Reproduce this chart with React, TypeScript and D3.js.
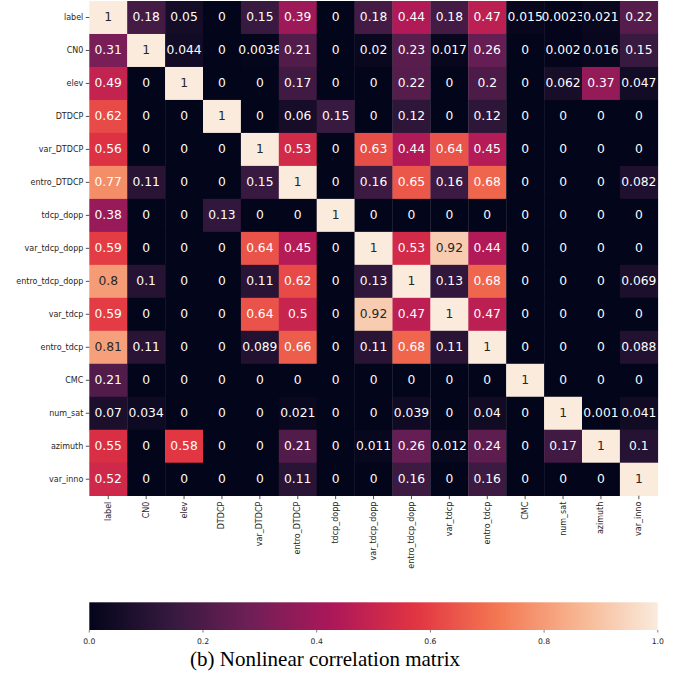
import React from "react";
import * as d3 from "d3";

const features: string[] = [
  "label", "CN0", "elev", "DTDCP", "var_DTDCP", "entro_DTDCP", "tdcp_dopp",
  "var_tdcp_dopp", "entro_tdcp_dopp", "var_tdcp", "entro_tdcp", "CMC",
  "num_sat", "azimuth", "var_inno",
];

const corrValues: number[][] = [
  [1, 0.18, 0.05, 0, 0.15, 0.39, 0, 0.18, 0.44, 0.18, 0.47, 0.015, 0.0023, 0.021, 0.22],
  [0.31, 1, 0.044, 0, 0.0038, 0.21, 0, 0.02, 0.23, 0.017, 0.26, 0, 0.002, 0.016, 0.15],
  [0.49, 0, 1, 0, 0, 0.17, 0, 0, 0.22, 0, 0.2, 0, 0.062, 0.37, 0.047],
  [0.62, 0, 0, 1, 0, 0.06, 0.15, 0, 0.12, 0, 0.12, 0, 0, 0, 0],
  [0.56, 0, 0, 0, 1, 0.53, 0, 0.63, 0.44, 0.64, 0.45, 0, 0, 0, 0],
  [0.77, 0.11, 0, 0, 0.15, 1, 0, 0.16, 0.65, 0.16, 0.68, 0, 0, 0, 0.082],
  [0.38, 0, 0, 0.13, 0, 0, 1, 0, 0, 0, 0, 0, 0, 0, 0],
  [0.59, 0, 0, 0, 0.64, 0.45, 0, 1, 0.53, 0.92, 0.44, 0, 0, 0, 0],
  [0.8, 0.1, 0, 0, 0.11, 0.62, 0, 0.13, 1, 0.13, 0.68, 0, 0, 0, 0.069],
  [0.59, 0, 0, 0, 0.64, 0.5, 0, 0.92, 0.47, 1, 0.47, 0, 0, 0, 0],
  [0.81, 0.11, 0, 0, 0.089, 0.66, 0, 0.11, 0.68, 0.11, 1, 0, 0, 0, 0.088],
  [0.21, 0, 0, 0, 0, 0, 0, 0, 0, 0, 0, 1, 0, 0, 0],
  [0.07, 0.034, 0, 0, 0, 0.021, 0, 0, 0.039, 0, 0.04, 0, 1, 0.001, 0.041],
  [0.55, 0, 0.58, 0, 0, 0.21, 0, 0.011, 0.26, 0.012, 0.24, 0, 0.17, 1, 0.1],
  [0.52, 0, 0, 0, 0, 0.11, 0, 0, 0.16, 0, 0.16, 0, 0, 0, 1],
];

const colorbarTicks: number[] = [0, 0.2, 0.4, 0.6, 0.8, 1.0];
const titleText = "(b) Nonlinear correlation matrix";

// seaborn "rocket" colormap key colours
const rocketStops: string[] = ["#03051a", "#35193e", "#701f57", "#ad1759", "#e13342", "#f37651", "#f6b48f", "#faebdd"];
const rocketPositions: number[] = [0, 1 / 7, 2 / 7, 3 / 7, 4 / 7, 5 / 7, 6 / 7, 1];

function luminance(c: string): number {
  const rgb = d3.rgb(c);
  const f = (v: number) => {
    v /= 255;
    return v <= 0.03928 ? v / 12.92 : Math.pow((v + 0.055) / 1.055, 2.4);
  };
  return 0.2126 * f(rgb.r) + 0.7152 * f(rgb.g) + 0.0722 * f(rgb.b);
}

export default function App() {
  const W = 689;
  const H = 675;
  const left = 89.3;
  const right = 657.8;
  const top = 1;
  const bottom = 495.7;
  const cbTop = 602.3;
  const cbBottom = 630;

  const x = d3.scaleBand<string>().domain(features).range([left, right]);
  const y = d3.scaleBand<string>().domain(features).range([top, bottom]);
  const color = d3
    .scaleLinear<string>()
    .domain(rocketPositions)
    .range(rocketStops)
    .interpolate(d3.interpolateRgb)
    .clamp(true);
  const cb = d3.scaleLinear().domain([0, 1]).range([left, right]);
  const fmt = d3.format(".2~g");
  const gradStops = d3.range(0, 1.0001, 0.02);
  const sans = "DejaVu Sans, sans-serif";
  const tickColor = "#262626";

  return (
    <div style={{ position: "absolute", left: 0, top: 0 }}>
      <svg width={W} height={H} viewBox={`0 0 ${W} ${H}`} style={{ display: "block", background: "#fff" }}>
        <defs>
          <linearGradient id="rocketGrad" x1="0" x2="1" y1="0" y2="0">
            {gradStops.map((t) => (
              <stop key={t} offset={`${t * 100}%`} stopColor={color(t)} />
            ))}
          </linearGradient>
        </defs>

        {/* cells */}
        {corrValues.map((row, i) =>
          row.map((v, j) => {
            const c = color(v);
            const cx = x(features[j])! + x.bandwidth() / 2;
            const cy = y(features[i])! + y.bandwidth() / 2;
            return (
              <g key={`${i}-${j}`}>
                <rect
                  x={x(features[j])!}
                  y={y(features[i])!}
                  width={x.bandwidth() + 0.3}
                  height={y.bandwidth() + 0.3}
                  fill={c}
                />
                <text
                  x={cx}
                  y={cy}
                  textAnchor="middle"
                  dominantBaseline="central"
                  fontFamily={sans}
                  fontSize={12.3}
                  fill={luminance(c) > 0.408 ? "#262626" : "#ffffff"}
                >
                  {fmt(v)}
                </text>
              </g>
            );
          })
        )}

        {/* y axis */}
        {features.map((f) => {
          const cy = y(f)! + y.bandwidth() / 2;
          return (
            <g key={`y-${f}`}>
              <line x1={left - 3.5} x2={left} y1={cy} y2={cy} stroke={tickColor} strokeWidth={0.8} />
              <text
                x={left - 6}
                y={cy}
                textAnchor="end"
                dominantBaseline="central"
                fontFamily={sans}
                fontSize={8}
                fill={tickColor}
              >
                {f}
              </text>
            </g>
          );
        })}

        {/* x axis */}
        {features.map((f) => {
          const cx = x(f)! + x.bandwidth() / 2;
          return (
            <g key={`x-${f}`}>
              <line x1={cx} x2={cx} y1={bottom} y2={bottom + 3.5} stroke={tickColor} strokeWidth={0.8} />
              <text
                transform={`translate(${cx},${bottom + 6}) rotate(-90)`}
                textAnchor="end"
                dominantBaseline="central"
                fontFamily={sans}
                fontSize={8}
                fill={tickColor}
              >
                {f}
              </text>
            </g>
          );
        })}

        {/* colorbar */}
        <rect x={left} y={cbTop} width={right - left} height={cbBottom - cbTop} fill="url(#rocketGrad)" />
        {colorbarTicks.map((t) => (
          <g key={`cb-${t}`}>
            <line x1={cb(t)} x2={cb(t)} y1={cbBottom} y2={cbBottom + 2.5} stroke={tickColor} strokeWidth={0.6} />
            <text
              x={cb(t)}
              y={cbBottom + 11.5}
              textAnchor="middle"
              dominantBaseline="central"
              fontFamily={sans}
              fontSize={7.7}
              fill={tickColor}
            >
              {t.toFixed(1)}
            </text>
          </g>
        ))}

        {/* caption */}
        <text
          x={325}
          y={666}
          textAnchor="middle"
          fontFamily="Liberation Serif, Times New Roman, serif"
          fontSize={21}
          fill="#000"
        >
          {titleText}
        </text>
      </svg>
    </div>
  );
}
